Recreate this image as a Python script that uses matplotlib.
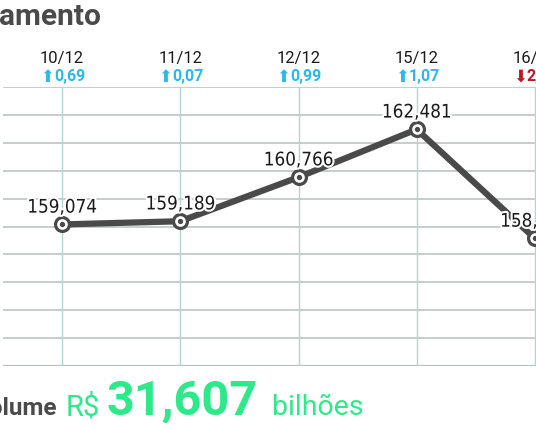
import matplotlib.pyplot as plt
import matplotlib.patheffects as pe

dates = ['10/12', '11/12', '12/12', '15/12', '16/12']
values = [159.074, 159.189, 160.766, 162.481, 158.571]
changes = ['0,69', '0,07', '0,99', '1,07', '2,41']
up = [True, True, True, True, False]
labels = ['159,074', '159,189', '160,766', '162,481', '158,571']

volume = '31,607'

W, H = 536, 430
fig = plt.figure(figsize=(W / 100, H / 100), dpi=100)
fig.patch.set_facecolor('white')

# axes run past the right edge, like the cropped original
left_px, right_px = 3, 594
top_px, bot_px = 87, 366
ax = fig.add_axes([left_px / W, (H - bot_px) / H,
                   (right_px - left_px) / W, (bot_px - top_px) / H])
ax.set_xlim(-0.5, 4.5)
ax.set_ylim(154, 164)
for s in ax.spines.values():
    s.set_visible(False)
ax.set_xticks([])
ax.set_yticks([])

for yv in range(154, 165):
    lw = 1.6 if yv == 154 else 1.1
    ax.axhline(yv, color='#b9bfbf', lw=lw, zorder=1)
x = list(range(len(values)))
for xv in x:
    ax.axvline(xv, color='#b4d3d3', lw=1.0, zorder=1)

dark = '#4a4a4a'
ax.plot(x, values, color=dark, lw=4.5, solid_capstyle='round', zorder=3)
ax.plot(x, values, 'o', ms=10, mfc='white', mec=dark, mew=2.3, zorder=4)
ax.plot(x, values, 'o', ms=2.8, mfc=dark, mec=dark, zorder=5)

for xi, v, lab in zip(x, values, labels):
    ax.annotate(lab, (xi, v), xytext=(0, 8.5), textcoords='offset points',
                ha='center', va='baseline', fontsize=13.5, family='DejaVu Sans',
                fontstretch='condensed', color='#1a1a1a', zorder=6,
                path_effects=[pe.withStroke(linewidth=3, foreground='white')])

# header row: dates and daily change
cyan = '#2bb8ec'
red = '#c0161d'
for xi, d, c, u in zip(x, dates, changes, up):
    px_pix = left_px + (xi + 0.5) / 5.0 * (right_px - left_px)
    fig.text(px_pix / W, 1 - 58 / H, d, ha='center', va='center', fontsize=12,
             family='Roboto', color='#1a1a1a')
    col = cyan if u else red
    arrow = '\u2b06' if u else '\u2b07'
    fig.text((px_pix - 8) / W, 1 - 77 / H, arrow, ha='right', va='center',
             fontsize=12, family='DejaVu Sans', color=col)
    fig.text((px_pix - 8) / W, 1 - 77 / H, c, ha='left', va='center',
             fontsize=11.5, family='Roboto', fontweight='bold', color=col)

fig.text(101 / W, 1 - 25 / H, 'Fechamento', ha='right', va='baseline',
         fontsize=21.5, family='Roboto', fontweight='bold', color='#4a4a4a')

green = '#2ee98a'
base = 1 - 415 / H
fig.text(57 / W, base, 'Volume', ha='right', va='baseline', fontsize=17.5,
         family='Roboto', fontweight='bold', color='#4a4a4a')
fig.text(66 / W, base, 'R$', ha='left', va='baseline', fontsize=21,
         family='Roboto', color=green)
fig.text(106 / W, base, volume, ha='left', va='baseline', fontsize=35,
         family='Roboto', fontweight='bold', color=green)
fig.text(272 / W, base, 'bilhões', ha='left', va='baseline', fontsize=20.5,
         family='Roboto', color=green)

fig.savefig('out.png', dpi=100)
